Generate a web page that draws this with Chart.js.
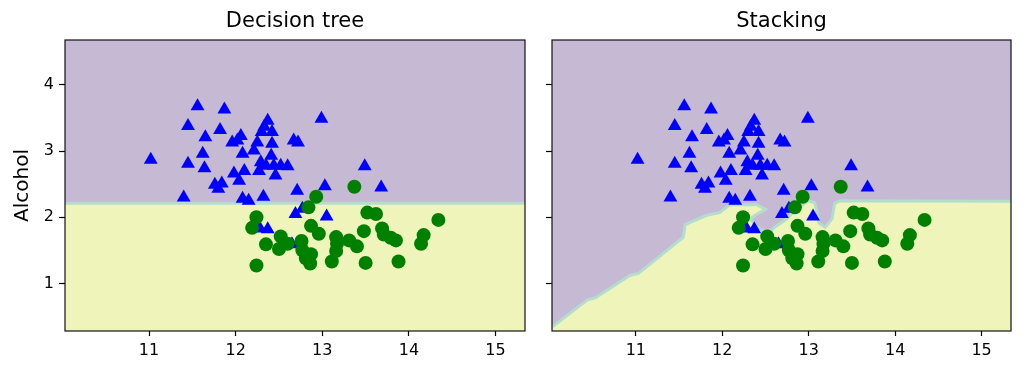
<!DOCTYPE html>
<html>
<head>
<meta charset="utf-8">
<script src="https://cdn.jsdelivr.net/npm/chart.js@4.4.1/dist/chart.umd.min.js"></script>
<style>
    html, body { margin: 0; padding: 0; background: #fff; }
    #wrap { position: relative; width: 1024px; height: 375px; overflow: hidden; }
    canvas { position: absolute; top: 0; }
    #treeChart { left: 0; }
    #stackChart { left: 535px; }
</style>
</head>
<body>
<div id="wrap">
    <canvas id="treeChart" width="535" height="375"></canvas>
    <canvas id="stackChart" width="489" height="375"></canvas>
</div>
<script>
/* ======================================
   DATA
====================================== */
const xMin = 10.03, xMax = 15.34;
const yMin = 0.28, yMax = 4.68;
const xTicks = [11, 12, 13, 14, 15];
const yTicks = [1, 2, 3, 4];

// class 1 (blue triangles)
const blueX = [11.02, 11.40, 11.45, 11.45, 11.56, 11.62, 11.64, 11.65, 11.76, 11.84,
               11.80, 11.82, 11.87, 11.96, 12.06, 12.08, 12.10, 11.98, 12.04, 12.08,
               12.15, 12.32, 12.37, 12.30, 12.42, 12.25, 12.42, 12.67, 12.72, 12.21,
               12.41, 12.29, 12.35, 12.44, 12.52, 12.60, 12.27, 12.46, 12.71, 12.99,
               13.03, 12.69, 12.77, 13.05, 12.28, 12.37, 12.65, 13.49, 13.68, 12.02, 12.33];
const blueY = [2.87, 2.30, 3.38, 2.81, 3.68, 2.96, 2.74, 3.21, 2.49, 2.51,
               2.43, 3.32, 3.63, 3.13, 3.23, 2.96, 2.70, 2.66, 2.55, 2.28,
               2.25, 2.31, 3.46, 3.29, 3.29, 3.13, 3.11, 3.16, 3.13, 3.01,
               2.93, 2.83, 2.78, 2.78, 2.78, 2.77, 2.70, 2.63, 2.40, 3.49,
               2.47, 2.05, 2.13, 2.01, 1.83, 1.82, 1.59, 2.77, 2.45, 3.16, 3.37];

// class 2 (green circles)
const greenX = [13.37, 12.93, 12.84, 12.24, 12.19, 12.87, 12.96, 13.52, 13.62, 13.48,
                13.69, 13.71, 13.79, 13.85, 12.52, 12.60, 12.50, 12.35, 12.76, 12.77,
                12.87, 12.81, 12.86, 13.16, 13.17, 13.16, 13.31, 13.40, 13.11, 13.50,
                12.24, 14.34, 14.17, 14.14, 13.88];
const greenY = [2.46, 2.31, 2.15, 2.00, 1.84, 1.87, 1.75, 2.07, 2.05, 1.79,
                1.83, 1.74, 1.69, 1.65, 1.71, 1.60, 1.52, 1.59, 1.64, 1.50,
                1.44, 1.38, 1.30, 1.70, 1.60, 1.49, 1.65, 1.56, 1.33, 1.31,
                1.27, 1.96, 1.73, 1.60, 1.33];

// decision boundaries (yellow region lies below these)
const treeBoundaryX = [xMin, xMax];
const treeBoundaryY = [2.21, 2.21];

const stackBoundaryX = [10.03, 10.44, 10.53, 10.93, 11.03, 11.55, 11.57, 11.82, 11.97, 12.09,
                        12.40, 12.50, 12.38, 12.32, 12.43, 12.53, 12.64, 12.74, 12.81, 12.89,
                        12.99, 13.07, 13.10, 13.12, 13.19, 13.27, 13.30, 13.36, 15.34];
const stackBoundaryY = [0.34, 0.75, 0.78, 1.12, 1.15, 1.70, 1.89, 2.03, 2.07, 2.19,
                        2.19, 2.12, 2.03, 1.97, 1.83, 1.77, 1.88, 1.97, 2.06, 2.15,
                        2.25, 2.22, 2.06, 1.91, 1.85, 1.98, 2.21, 2.25, 2.24];

/* ======================================
   STYLE
====================================== */
const FONT = "DejaVu Sans";
const PURPLE = "#c6b9d4";
const YELLOW = "#eff4bb";
const EDGE = "#b4dccf";

function toPoints(xs, ys) {
    return xs.map((x, i) => ({ x: x, y: ys[i] }));
}

function regionBelow(xs, ys) {
    const pts = toPoints(xs, ys);
    pts.push({ x: xMax, y: yMin }, { x: xMin, y: yMin });
    return pts;
}

// purple background + black frame round the plot area
const framePlugin = {
    id: "frame",
    beforeDatasetsDraw(chart) {
        const a = chart.chartArea;
        const ctx = chart.ctx;
        ctx.save();
        ctx.fillStyle = PURPLE;
        ctx.fillRect(a.left, a.top, a.right - a.left, a.bottom - a.top);
        ctx.restore();
    },
    afterDraw(chart) {
        const a = chart.chartArea;
        const ctx = chart.ctx;
        ctx.save();
        ctx.strokeStyle = "#111";
        ctx.lineWidth = 1.2;
        ctx.strokeRect(a.left, a.top, a.right - a.left, a.bottom - a.top);
        ctx.restore();
    }
};

/* ======================================
   CHART BUILDER
====================================== */
function buildDatasets(bx, by) {
    return [
        {
            type: "scatter",
            data: toPoints(greenX, greenY),
            pointStyle: "circle",
            pointRadius: 7,
            pointBackgroundColor: "#008000",
            pointBorderWidth: 0,
            order: 1
        },
        {
            type: "scatter",
            data: toPoints(blueX, blueY),
            pointStyle: "triangle",
            pointRadius: 8,
            pointBackgroundColor: "#0000ff",
            pointBorderWidth: 0,
            order: 2
        },
        {
            type: "line",
            data: toPoints(bx, by),
            borderColor: EDGE,
            borderWidth: 3,
            pointRadius: 0,
            tension: 0,
            fill: false,
            order: 3
        },
        {
            type: "line",
            data: regionBelow(bx, by),
            borderColor: "rgba(0,0,0,0)",
            borderWidth: 0,
            backgroundColor: YELLOW,
            pointRadius: 0,
            tension: 0,
            fill: "shape",
            order: 4
        }
    ];
}

function drawPanel(id, title, bx, by, isLeft) {
    const ctx = document.getElementById(id).getContext("2d");
    return new Chart(ctx, {
        type: "scatter",
        data: { datasets: buildDatasets(bx, by) },
        plugins: [framePlugin],
        options: {
            responsive: false,
            animation: false,
            events: [],
            devicePixelRatio: 1,
            layout: { padding: { left: 0, right: isLeft ? 10 : 13, top: 0, bottom: 0 } },
            plugins: {
                legend: { display: false },
                tooltip: { enabled: false },
                title: {
                    display: true,
                    text: title,
                    fullSize: false,
                    color: "#000",
                    font: { family: FONT, size: 21, weight: "normal" },
                    padding: { top: 9, bottom: 5.8 }
                }
            },
            scales: {
                x: {
                    type: "linear",
                    min: xMin,
                    max: xMax,
                    afterBuildTicks: axis => { axis.ticks = xTicks.map(v => ({ value: v })); },
                    afterFit: axis => { axis.height = 44; },
                    grid: { display: true, drawOnChartArea: false, drawTicks: true, tickLength: 5, tickWidth: 1.2, tickColor: "#000" },
                    border: { display: false },
                    ticks: { color: "#000", font: { family: FONT, size: 16 }, padding: 5, maxRotation: 0 }
                },
                y: {
                    type: "linear",
                    min: yMin,
                    max: yMax,
                    afterBuildTicks: axis => { axis.ticks = yTicks.map(v => ({ value: v })); },
                    afterFit: axis => { axis.width = isLeft ? 65 : 17; },
                    grid: { display: true, drawOnChartArea: false, drawTicks: true, tickLength: 6, tickWidth: 1.2, tickColor: "#000" },
                    border: { display: false },
                    ticks: {
                        color: "#000",
                        font: { family: FONT, size: 16 },
                        padding: 5,
                        callback: v => isLeft ? v : ""
                    },
                    title: {
                        display: isLeft,
                        text: "Alcohol",
                        color: "#000",
                        font: { family: FONT, size: 20 },
                        padding: { top: 11, bottom: 0 }
                    }
                }
            }
        }
    });
}

/* INITIAL LOAD */
drawPanel("treeChart", "Decision tree", treeBoundaryX, treeBoundaryY, true);
drawPanel("stackChart", "Stacking", stackBoundaryX, stackBoundaryY, false);
</script>
</body>
</html>
